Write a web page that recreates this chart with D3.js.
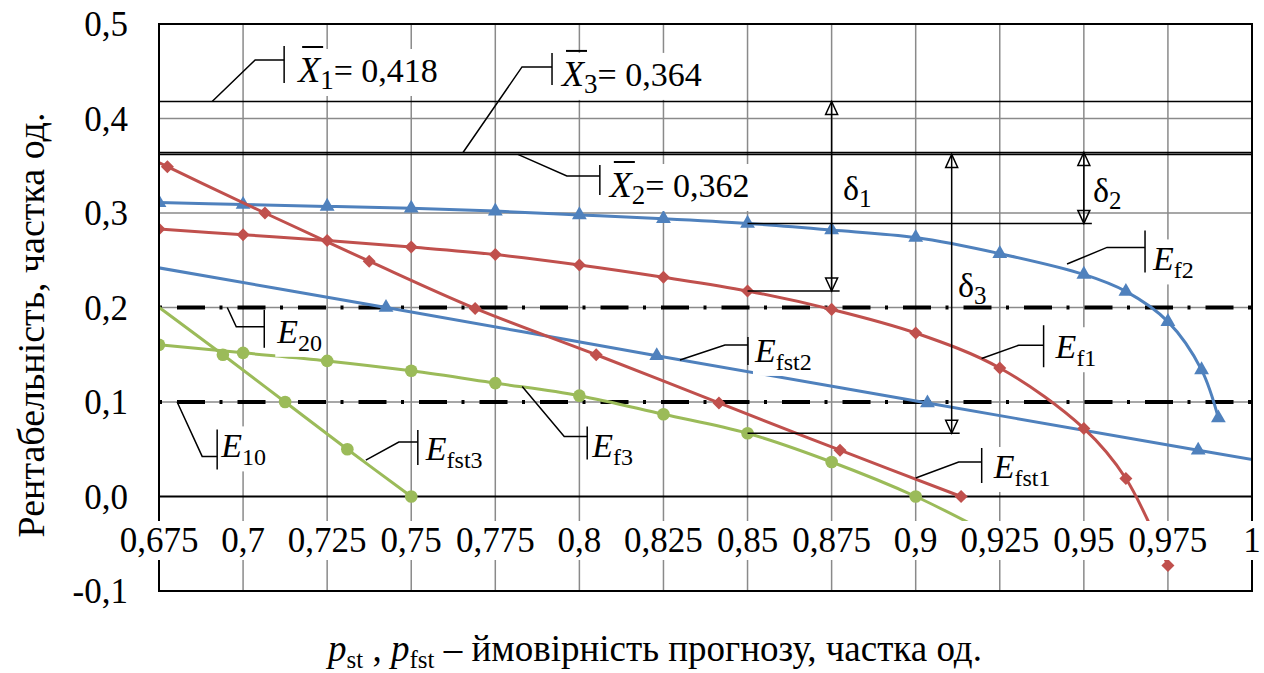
<!DOCTYPE html>
<html>
<head>
<meta charset="utf-8">
<script src="https://cdn.jsdelivr.net/npm/d3@7"></script>
</head>
<body style="margin:0">
<script>
// size and plot box
const width = 1264
const height = 673
const plot = {left: 159, right: 1252, top: 24, bottom: 591}
const serif = "Liberation Serif"

// axis ticks
const xTicks = [0.675, 0.7, 0.725, 0.75, 0.775, 0.8, 0.825, 0.85, 0.875, 0.9, 0.925, 0.95, 0.975, 1]
const xTickLabels = ["0,675", "0,7", "0,725", "0,75", "0,775", "0,8", "0,825", "0,85", "0,875", "0,9", "0,925", "0,95", "0,975", "1"]
const yTicks = [-0.1, 0, 0.1, 0.2, 0.3, 0.4, 0.5]
const yTickLabels = ["-0,1", "0,0", "0,1", "0,2", "0,3", "0,4", "0,5"]

// E_f1 (red, diamonds)
const pEf1 = [0.675, 0.7, 0.725, 0.75, 0.775, 0.8, 0.825, 0.85, 0.875, 0.9, 0.925, 0.95, 0.9625, 0.975]
const vEf1 = [0.283, 0.277, 0.271, 0.264, 0.256, 0.245, 0.232, 0.2175, 0.198, 0.173, 0.136, 0.072, 0.019, -0.073]
// E_fst1 (red, diamonds)
const pEfst1 = [0.6485, 0.6775, 0.7065, 0.7375, 0.769, 0.805, 0.8415, 0.8775, 0.9135]
const vEfst1 = [0.4, 0.349, 0.3, 0.249, 0.199, 0.15, 0.099, 0.049, 0.0]
// E_f2 (blue, triangles)
const pEf2 = [0.675, 0.7, 0.725, 0.75, 0.775, 0.8, 0.825, 0.85, 0.875, 0.9, 0.925, 0.95, 0.9625, 0.975, 0.985, 0.99]
const vEf2 = [0.311, 0.309, 0.307, 0.305, 0.302, 0.298, 0.294, 0.289, 0.282, 0.274, 0.257, 0.235, 0.217, 0.185, 0.134, 0.083]
// E_fst2 (blue, triangles)
const pEfst2 = [0.662, 0.7425, 0.823, 0.9035, 0.984, 1.0645]
const vEfst2 = [0.25, 0.2, 0.149, 0.099, 0.049, 0.0]
// E_f3 (green, circles)
const pEf3 = [0.675, 0.7, 0.725, 0.75, 0.775, 0.8, 0.825, 0.85, 0.875, 0.9, 0.925]
const vEf3 = [0.1605, 0.152, 0.1435, 0.133, 0.12, 0.1067, 0.087, 0.0669, 0.0365, 0.0, -0.045]
// E_fst3 (green, circles)
const pEfst3 = [0.656, 0.694, 0.7125, 0.731, 0.75]
const vEfst3 = [0.25, 0.15, 0.1, 0.05, 0.0]

// mean levels and thresholds
const xBar1 = 0.418
const xBar2 = 0.362
const xBar3 = 0.364
const e20 = 0.2
const e10 = 0.1

const blue = "#4f81bd", red = "#c0504d", green = "#9bbb59"

const svg = d3.select("body").append("svg")
    .attr("width", width)
    .attr("height", height)
    .attr("font-family", serif)

const x = d3.scaleLinear().domain([0.675, 1]).range([plot.left, plot.right])
const y = d3.scaleLinear().domain([-0.1, 0.5]).range([plot.bottom, plot.top])

svg.append("rect").attr("width", width).attr("height", height).attr("fill", "#fff")

svg.append("clipPath").attr("id", "clip")
  .append("rect")
    .attr("x", plot.left).attr("y", plot.top)
    .attr("width", plot.right - plot.left).attr("height", plot.bottom - plot.top)

// grid
const grid = svg.append("g").attr("stroke", "#8a8a8a").attr("stroke-width", 1.5)
grid.selectAll(".vg").data(xTicks.slice(1, -1)).enter().append("line")
    .attr("x1", d => x(d)).attr("x2", d => x(d))
    .attr("y1", plot.top).attr("y2", plot.bottom)
grid.selectAll(".hg").data(yTicks.filter(d => d > -0.1 && d < 0.5 && d !== 0)).enter().append("line")
    .attr("y1", d => y(d)).attr("y2", d => y(d))
    .attr("x1", plot.left).attr("x2", plot.right)

// zero line
svg.append("line")
    .attr("x1", plot.left).attr("x2", plot.right)
    .attr("y1", y(0)).attr("y2", y(0))
    .attr("stroke", "#000").attr("stroke-width", 2)

// E20 / E10 dash-dot lines
svg.selectAll(".eline").data([e20, e10]).enter().append("line")
    .attr("x1", plot.left).attr("x2", plot.right)
    .attr("y1", d => y(d)).attr("y2", d => y(d))
    .attr("stroke", "#000").attr("stroke-width", 4)
    .attr("stroke-dasharray", "3,15,28,14.5")

// mean lines
svg.selectAll(".xbar").data([xBar1, xBar2, xBar3]).enter().append("line")
    .attr("x1", plot.left).attr("x2", plot.right)
    .attr("y1", d => y(d)).attr("y2", d => y(d))
    .attr("stroke", "#000").attr("stroke-width", 1.6)

// series
const series = [
  {p: pEfst2, v: vEfst2, color: blue, shape: "tri"},
  {p: pEf2, v: vEf2, color: blue, shape: "tri"},
  {p: pEf3, v: vEf3, color: green, shape: "circle"},
  {p: pEfst3, v: vEfst3, color: green, shape: "circle"},
  {p: pEf1, v: vEf1, color: red, shape: "diamond"},
  {p: pEfst1, v: vEfst1, color: red, shape: "diamond"}
]

const line = d3.line()
    .x(d => x(d[0])).y(d => y(d[1]))
    .curve(d3.curveCatmullRom.alpha(0.5))

const symbols = {
  tri: d3.symbol(d3.symbolTriangle, 95),
  diamond: d3.symbol(d3.symbolSquare, 85),
  circle: d3.symbol(d3.symbolCircle, 125)
}

const sg = svg.append("g").attr("clip-path", "url(#clip)")
series.forEach(s => {
  const pts = s.p.map((p, i) => [p, s.v[i]])
  sg.append("path").datum(pts)
    .attr("d", line)
    .attr("fill", "none")
    .attr("stroke", s.color)
    .attr("stroke-width", 3)
  sg.selectAll(null).data(pts).enter().append("path")
    .attr("d", symbols[s.shape])
    .attr("transform", d => `translate(${x(d[0])},${y(d[1])})` + (s.shape === "diamond" ? " rotate(45)" : ""))
    .attr("fill", s.color)
})

// delta arrows
const ann = svg.append("g").attr("stroke", "#000").attr("stroke-width", 1.5).attr("fill", "none")
const deltas = [
  {p: 0.875, top: xBar1, bot: vEf1[7], name: "1", lx: 843, ly: 200},
  {p: 0.95, top: xBar3, bot: vEf2[7], name: "2", lx: 1093, ly: 202},
  {p: 0.9107, top: xBar2, bot: vEf3[7], name: "3", lx: 958, ly: 297}
]
deltas.forEach(d => {
  const vx = x(d.p), y0 = y(d.top), y1 = y(d.bot)
  ann.append("line").attr("x1", x(0.85)).attr("x2", vx + 8).attr("y1", y1).attr("y2", y1)
  ann.append("line").attr("x1", vx).attr("x2", vx).attr("y1", y0).attr("y2", y1)
  ann.append("path").attr("d", `M${vx},${y0}L${vx - 6},${y0 + 13}L${vx + 6},${y0 + 13}Z`)
  ann.append("path").attr("d", `M${vx},${y1}L${vx - 6},${y1 - 13}L${vx + 6},${y1 - 13}Z`)
})

// rich text helper: parts = [{t, s, i, dy}]
function rich(g, tx, ty, parts, anchor) {
  const t = g.append("text").attr("x", tx).attr("y", ty).attr("font-family", serif)
  if (anchor) t.attr("text-anchor", anchor)
  let shift = 0
  parts.forEach(pt => {
    const ts = t.append("tspan").text(pt.t).attr("font-size", pt.s)
    if (pt.i) ts.attr("font-style", "italic")
    const d = (pt.dy || 0) - shift
    if (d) ts.attr("dy", d)
    shift = pt.dy || 0
  })
  return t
}

function whiteBox(g, t, pad) {
  const b = t.node().getBBox()
  g.insert("rect", () => t.node())
    .attr("x", b.x - pad).attr("y", b.y - pad)
    .attr("width", b.width + 2 * pad).attr("height", b.height + 2 * pad)
    .attr("fill", "#fff")
}

const lab = svg.append("g")

// delta labels
deltas.forEach(d => {
  rich(lab, d.lx, d.ly, [{t: "δ", s: 34}, {t: d.name, s: 25, dy: 7}])
})

// callouts: anchor in data units, offsets in pixels
const callouts = [
  {p: 0.6908, v: xBar1, ex: 43, ey: -41.5, hx: 72, b0: -14, b1: 23, tx: 14, ty: 22, bar: true, main: "X", sub: "1", rest: "= 0,418"},
  {p: 0.7654, v: xBar3, ex: 59, ey: -85.6, hx: 89, b0: -14, b1: 18, tx: 10, ty: 19, bar: true, main: "X", sub: "3", rest: "= 0,364"},
  {p: 0.7817, v: xBar2, ex: 49, ey: 21.6, hx: 82, b0: -11, b1: 19, tx: 10, ty: 21, bar: true, main: "X", sub: "2", rest: "= 0,362"},
  {p: 0.6953, v: e20, ex: 9, ey: 19.3, hx: 37, b0: -17, b1: 21, tx: 13, ty: 16, main: "E", sub: "20"},
  {p: 0.6804, v: e10, ex: 25, ey: 54.4, hx: 40, b0: -27, b1: 13, tx: 4, ty: 1, main: "E", sub: "10"},
  {p: 0.7365, v: 0.0385, ex: 33, ey: -18, hx: 52, b0: -12, b1: 23, tx: 8, ty: 18, main: "E", sub: "fst3"},
  {p: 0.7830, v: 0.1165, ex: 42, ey: 50, hx: 65, b0: -10, b1: 23, tx: 5, ty: 21, main: "E", sub: "f3"},
  {p: 0.8299, v: 0.1445, ex: 45, ey: -15, hx: 68, b0: -8, b1: 20, tx: 7, ty: 17, main: "E", sub: "fst2"},
  {p: 0.9450, v: 0.246, ex: 40, ey: -16.6, hx: 78, b0: -17, b1: 25, tx: 8, ty: 23, main: "E", sub: "f2"},
  {p: 0.9196, v: 0.146, ex: 37, ey: -13.3, hx: 62, b0: -20, b1: 22, tx: 12, ty: 13, main: "E", sub: "f1"},
  {p: 0.9000, v: 0.0196, ex: 43, ey: -16, hx: 66, b0: -14, b1: 21, tx: 12, ty: 16, main: "E", sub: "fst1"}
]

callouts.forEach(c => {
  const ax = x(c.p), ay = y(c.v)
  const ex = ax + c.ex, ey = ay + c.ey, bx = ax + c.hx
  ann.append("polyline").attr("points", `${ax},${ay} ${ex},${ey} ${bx},${ey}`)
  ann.append("line").attr("x1", bx).attr("x2", bx).attr("y1", ey + c.b0).attr("y2", ey + c.b1)
  let t
  if (c.bar) {
    t = rich(lab, bx + c.tx, ey + c.ty, [
      {t: c.main, s: 36, i: true},
      {t: c.sub, s: 27, dy: 7},
      {t: c.rest, s: 34, dy: 0}
    ])
  } else {
    t = rich(lab, bx + c.tx, ey + c.ty, [
      {t: c.main, s: 34, i: true},
      {t: c.sub, s: 24, dy: 8}
    ])
  }
  whiteBox(lab, t, 1)
  if (c.bar) {
    const e = t.node().getExtentOfChar(0)
    const by = ey + c.ty - 35
    lab.append("line")
      .attr("x1", e.x + 4).attr("x2", e.x + e.width + 3)
      .attr("y1", by).attr("y2", by)
      .attr("stroke", "#000").attr("stroke-width", 2)
  }
})

// plot border
svg.append("rect")
    .attr("x", plot.left).attr("y", plot.top)
    .attr("width", plot.right - plot.left).attr("height", plot.bottom - plot.top)
    .attr("fill", "none").attr("stroke", "#000").attr("stroke-width", 2)

// x tick labels with white boxes (over the border too)
const xl = svg.append("g")
xTicks.forEach((d, i) => {
  const t = xl.append("text")
    .attr("x", x(d)).attr("y", 552)
    .attr("text-anchor", "middle")
    .attr("font-size", 35)
    .attr("font-family", serif)
    .text(xTickLabels[i])
  whiteBox(xl, t, 0)
})

// y tick labels
svg.append("g").selectAll("text").data(yTicks).enter().append("text")
    .attr("x", 128).attr("y", d => y(d))
    .attr("dy", "0.35em")
    .attr("text-anchor", "end")
    .attr("font-size", 35)
    .attr("font-family", serif)
    .text((d, i) => yTickLabels[i])

// axis titles
svg.append("text")
    .attr("transform", "translate(44,325) rotate(-90)")
    .attr("text-anchor", "middle")
    .attr("font-size", 38)
    .attr("font-family", serif)
    .text("Рентабельність, частка од.")

rich(svg, 655, 661, [
  {t: "p", s: 37, i: true},
  {t: "st", s: 25, dy: 7},
  {t: " , ", s: 37, dy: 0},
  {t: "p", s: 37, i: true},
  {t: "fst", s: 25, dy: 7},
  {t: " – ймовірність прогнозу, частка од.", s: 37, dy: 0}
], "middle")
</script>
</body>
</html>
